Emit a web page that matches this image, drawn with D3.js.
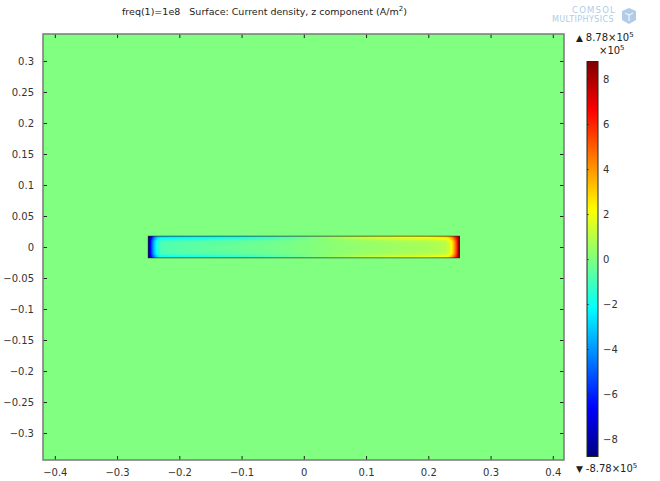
<!DOCTYPE html>
<html>
<head>
<meta charset="utf-8">
<script src="https://cdn.jsdelivr.net/npm/d3@7"></script>
<style>
  body { margin: 0; background: #fff; }
  svg { display: block; font-family: "DejaVu Sans", sans-serif; }
</style>
</head>
<body>
<div id="chart"></div>
<script>
// Current density (z) in the strip, in units of 1e5 A/m^2
var stripX = [-0.25, -0.247, -0.244, -0.241, -0.238, -0.234, -0.228, -0.2, -0.15, -0.1, -0.05, 0,
              0.05, 0.1, 0.15, 0.2, 0.228, 0.234, 0.238, 0.241, 0.244, 0.247, 0.25];
// value along the centre line
var coreVals = [-8.78, -7, -5, -3.4, -2.2, -1.3, -0.8, -0.65, -0.5, -0.35, -0.2, 0,
                0.2, 0.35, 0.5, 0.65, 0.9, 1.4, 2.4, 3.6, 5.2, 7, 8.78];
// value along the long (top/bottom) boundary
var edgeVals = [-8.78, -7.8, -6.4, -5, -3.8, -3.1, -2.8, -2.6, -2.4, -2.0, -1.3, -0.4,
                0.6, 1.5, 2.1, 2.5, 2.9, 3.5, 4.5, 5.6, 6.7, 7.7, 8.78];
// skin-depth weight, by distance from the top/bottom boundary (m)
var depthD = [0, 0.002, 0.004, 0.006, 0.009, 0.0175];
var depthW = [1, 0.8, 0.5, 0.25, 0.06, 0];

var stripHalfW = 0.25, stripHalfH = 0.0175;
var xTicks = [-0.4, -0.3, -0.2, -0.1, 0, 0.1, 0.2, 0.3, 0.4];
var yTicks = [-0.3, -0.25, -0.2, -0.15, -0.1, -0.05, 0, 0.05, 0.1, 0.15, 0.2, 0.25, 0.3];
var barTicks = [-8, -6, -4, -2, 0, 2, 4, 6, 8];
var vMax = 8.78;

(function () {
  var W = 660, H = 481;
  var margin = { top: 34, right: 96, bottom: 21, left: 43 },
      width = W - margin.left - margin.right,
      height = H - margin.top - margin.bottom;

  var svg = d3.select("#chart").append("svg")
      .attr("width", W).attr("height", H);

  // jet colormap
  var jet = function (t) {
    t = Math.max(0, Math.min(1, t));
    var r = Math.max(0, Math.min(1, 1.5 - Math.abs(4 * t - 3)));
    var g = Math.max(0, Math.min(1, 1.5 - Math.abs(4 * t - 2)));
    var b = Math.max(0, Math.min(1, 1.5 - Math.abs(4 * t - 1)));
    return d3.rgb(r * 255, g * 255, b * 255).toString();
  };
  var color = d3.scaleSequential(jet).domain([-vMax, vMax]);

  var x = d3.scaleLinear().domain([-0.419, 0.418]).range([0, width]);
  var y = d3.scaleLinear().domain([-0.3435, 0.3435]).range([height, 0]);

  var g = svg.append("g").attr("transform", "translate(" + margin.left + "," + margin.top + ")");

  // background (air, value 0)
  g.append("rect")
    .attr("width", width).attr("height", height)
    .attr("fill", color(0));

  // strip field
  var core = d3.scaleLinear().domain(stripX).range(coreVals).clamp(true);
  var edge = d3.scaleLinear().domain(stripX).range(edgeVals).clamp(true);
  var depth = d3.scaleLinear().domain(depthD).range(depthW).clamp(true);

  var nx = 330, ny = 36;
  var dx = 2 * stripHalfW / nx, dy = 2 * stripHalfH / ny;
  var cells = [];
  for (var i = 0; i < nx; i++) {
    for (var j = 0; j < ny; j++) {
      var cx = -stripHalfW + (i + 0.5) * dx;
      var cy = -stripHalfH + (j + 0.5) * dy;
      var dist = stripHalfH - Math.abs(cy);
      var c = core(cx), e = edge(cx);
      cells.push({ x0: -stripHalfW + i * dx, y1: -stripHalfH + (j + 1) * dy, v: c + (e - c) * depth(dist) });
    }
  }
  g.append("g").attr("shape-rendering", "crispEdges").selectAll("rect")
    .data(cells)
    .enter().append("rect")
    .attr("x", d => x(d.x0))
    .attr("y", d => y(d.y1))
    .attr("width", x(dx) - x(0) + 0.5)
    .attr("height", y(0) - y(dy) + 0.5)
    .attr("fill", d => color(d.v));

  g.append("rect")
    .attr("x", x(-stripHalfW)).attr("y", y(stripHalfH))
    .attr("width", x(stripHalfW) - x(-stripHalfW))
    .attr("height", y(-stripHalfH) - y(stripHalfH))
    .attr("fill", "none").attr("stroke", "#222").attr("stroke-width", 0.8).attr("stroke-opacity", 0.8);

  // axes with inward ticks
  var fmt = d => d3.format("")(+d.toFixed(2));
  var styleAxis = function (sel) {
    sel.select(".domain").remove();
    sel.selectAll(".tick line").attr("stroke", "#222");
    sel.selectAll(".tick text").attr("fill", "#333").attr("font-size", "10px")
      .attr("font-family", "DejaVu Sans, sans-serif");
  };
  g.append("g").attr("transform", "translate(0," + height + ")")
    .call(d3.axisBottom(x).tickValues(xTicks).tickFormat(fmt).tickSizeInner(-4).tickPadding(9))
    .call(styleAxis);
  g.append("g")
    .call(d3.axisTop(x).tickValues(xTicks).tickFormat("").tickSizeInner(-4))
    .call(styleAxis);
  g.append("g")
    .call(d3.axisLeft(y).tickValues(yTicks).tickFormat(fmt).tickSizeInner(-4).tickPadding(9))
    .call(styleAxis);
  g.append("g").attr("transform", "translate(" + width + ",0)")
    .call(d3.axisRight(y).tickValues(yTicks).tickFormat("").tickSizeInner(-4))
    .call(styleAxis);

  // frame
  g.append("rect")
    .attr("width", width).attr("height", height)
    .attr("fill", "none").attr("stroke", "#7a7a7a").attr("stroke-width", 1.5);

  // title
  var title = svg.append("text")
    .attr("x", 122).attr("y", 15)
    .attr("font-size", "9.5px").attr("fill", "#222")
    .attr("xml:space", "preserve")
    .style("white-space", "pre");
  title.append("tspan").text("freq(1)=1e8   Surface: Current density, z component (A/m");
  title.append("tspan").attr("dy", -4).attr("font-size", "7px").text("2");
  title.append("tspan").attr("dy", 4).text(")");

  // colorbar
  var barX = 587, barW = 11;
  var yb = d3.scaleLinear().domain([-vMax, vMax]).range([456.5, 61.5]);
  var grad = svg.append("defs").append("linearGradient")
    .attr("id", "jetbar").attr("x1", 0).attr("y1", 1).attr("x2", 0).attr("y2", 0);
  grad.selectAll("stop")
    .data(d3.range(0, 1.0001, 0.02))
    .enter().append("stop")
    .attr("offset", d => d)
    .attr("stop-color", d => color(-vMax + d * 2 * vMax));
  svg.append("rect")
    .attr("x", barX).attr("y", yb(vMax)).attr("width", barW).attr("height", yb(-vMax) - yb(vMax))
    .attr("fill", "url(#jetbar)").attr("stroke", "#1a2a1a").attr("stroke-width", 1);
  var barAxis = svg.append("g").attr("transform", "translate(" + barX + ",0)")
    .call(d3.axisRight(yb).tickValues(barTicks).tickFormat(d3.format("")).tickSizeInner(2).tickPadding(14));
  barAxis.select(".domain").remove();
  barAxis.selectAll(".tick line").attr("stroke", "#222").attr("stroke-opacity", 0.6);
  barAxis.selectAll(".tick text").attr("fill", "#333").attr("font-size", "10px")
    .attr("font-family", "DejaVu Sans, sans-serif");

  // max / min labels
  var label = function (xx, yy, sym, txt) {
    var t = svg.append("text").attr("x", xx).attr("y", yy).attr("font-size", "10px").attr("fill", "#222");
    if (sym) t.append("tspan").attr("font-size", "9px").text(sym + " ");
    t.append("tspan").text(txt + "\u00d710");
    t.append("tspan").attr("dy", -4).attr("font-size", "7px").text("5");
    return t;
  };
  label(576, 41, "\u25b2", "8.78");
  label(599, 54, null, "");
  label(576, 472, "\u25bc", "-8.78");

  // logo
  var logo = svg.append("g").attr("fill", "#b0cce8");
  logo.append("text").attr("x", 594).attr("y", 13).attr("text-anchor", "middle")
    .attr("font-size", "8.5px").attr("letter-spacing", "1.2px").text("COMSOL");
  logo.append("text").attr("x", 583).attr("y", 22).attr("text-anchor", "middle")
    .attr("font-size", "8px").attr("letter-spacing", "0.4px").text("MULTIPHYSICS");
  logo.append("path").attr("d", "M622,11 L629,8 L636,11 L636,20 L629,24 L622,20 Z");
  logo.append("path").attr("d", "M625,13 L629,15 L633,13 M629,15 L629,21").attr("stroke", "#fff")
    .attr("stroke-width", 1).attr("fill", "none");
})();
</script>
</body>
</html>
